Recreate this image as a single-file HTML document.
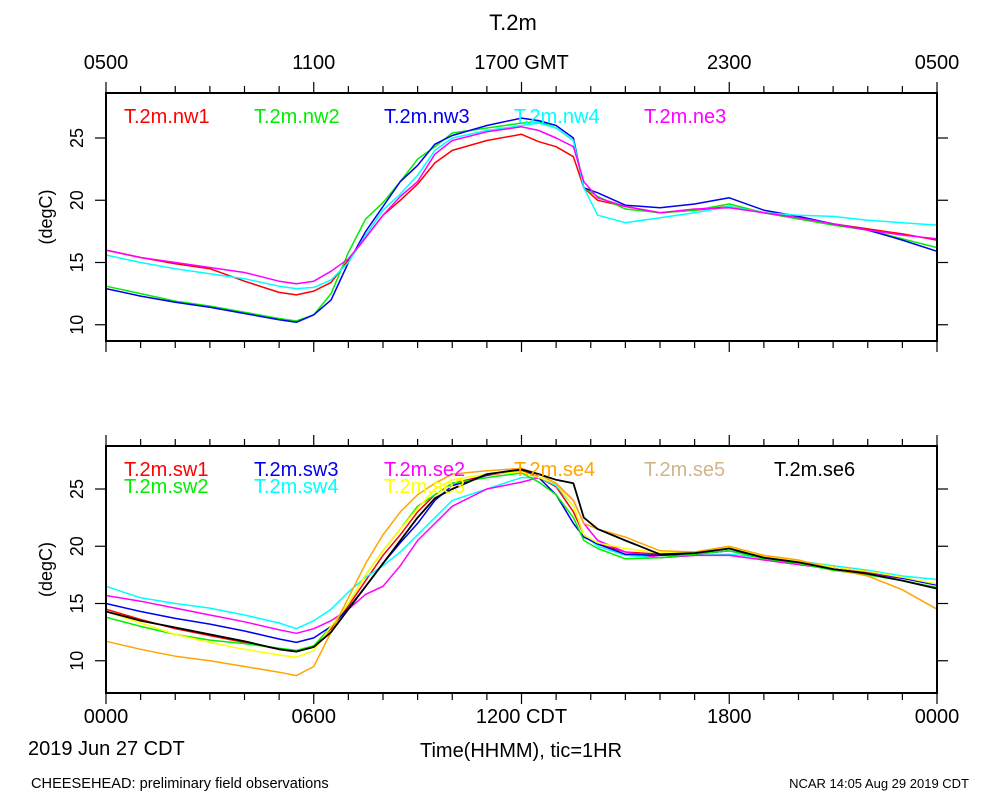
<!DOCTYPE html>
<html><head><meta charset="utf-8"><style>
body{margin:0;background:#fff;}
svg{display:block;font-family:"Liberation Sans",sans-serif;}
</style></head><body>
<svg id="chart" width="1000" height="800" viewBox="0 0 1000 800">
<text x="513" y="30" font-size="22" text-anchor="middle">T.2m</text>
<g id="g-top"></g>
<g id="g-bot"></g>
<text x="28" y="755" font-size="20">2019 Jun 27 CDT</text>
<text x="521" y="757" font-size="20" text-anchor="middle">Time(HHMM), tic=1HR</text>
<text x="31" y="788" font-size="14.6">CHEESEHEAD: preliminary field observations</text>
<text x="969" y="788" font-size="13" text-anchor="end">NCAR 14:05 Aug 29 2019 CDT</text>
</svg>
<script>
const times=[0,1,2,3,4,5,5.5,6,6.5,7,7.5,8,8.5,9,9.5,10,11,12,12.5,13,13.5,13.8,14.2,15,16,17,18,19,20,21,22,23,24];
const topLabels=["0500","1100","1700 GMT","2300","0500"];
const botLabels=["0000","0600","1200 CDT","1800","0000"];
const yTicks=[10,15,20,25];
const nw1=[16,15.4,14.9,14.5,13.5,12.6,12.4,12.7,13.4,15.2,17,18.8,20,21.3,23,24,24.8,25.3,24.7,24.3,23.5,21,20,19.5,19,19.2,19.5,19,18.5,18.1,17.7,17.3,16.8];
const nw2=[13.1,12.5,11.9,11.5,11,10.5,10.3,10.8,12.5,15.8,18.5,19.8,21.5,23.3,24.3,25.4,25.8,26.2,26.3,25.8,24.8,21,20.3,19.3,19,19.2,19.7,19,18.5,18,17.6,16.9,16.2];
const nw3=[12.9,12.3,11.8,11.4,10.9,10.4,10.2,10.8,12,15,17.5,19.5,21.5,22.8,24.5,25.2,26,26.6,26.4,26,25,21,20.6,19.6,19.4,19.7,20.2,19.2,18.7,18.1,17.6,16.8,15.9];
const nw4=[15.6,15,14.5,14.1,13.7,13.1,12.9,13,13.6,15,17.2,19.2,20.5,22,24,25,25.6,26,26.2,25.8,24.8,21,18.8,18.2,18.6,19,19.5,19,18.8,18.7,18.4,18.2,18];
const ne3=[16,15.4,15,14.6,14.2,13.5,13.3,13.5,14.3,15.3,17,18.8,20.3,21.5,23.7,24.8,25.5,25.9,25.6,25,24.3,21.5,20.2,19.5,19,19.3,19.4,19,18.6,18.1,17.6,17.2,16.9];
const sw1=[14.5,13.6,12.8,12.2,11.6,11,10.8,11.3,12.8,14.8,17,19.2,21,23,24.5,25.5,26.2,26.6,26,25.2,23,21,20.2,19.5,19.3,19.4,19.8,19,18.6,18,17.7,17.3,16.6];
const sw2=[13.8,13,12.3,11.8,11.5,11.1,10.9,11.3,13,15,17.5,19.6,21.5,23.5,24.5,25.5,26,26.4,25.6,24.5,22.5,20.5,19.8,18.9,19,19.3,19.6,18.9,18.5,17.9,17.5,17,16.4];
const sw3=[15,14.3,13.7,13.2,12.6,11.9,11.6,12,13,14.6,16.5,18.5,20.3,22,24,25.3,26.2,26.8,26,24.5,22,20.8,20.2,19.3,19.2,19.3,19.6,19,18.7,18.2,17.8,17.2,16.6];
const sw4=[16.5,15.5,15,14.6,14,13.3,12.8,13.5,14.5,16,17.3,18.3,19.5,21,22.5,24,25,26,26,25.3,23.5,21,20,19.2,19,19.2,19.3,19,18.7,18.3,17.9,17.4,17.1];
const se2=[15.7,15.2,14.6,14,13.4,12.7,12.4,12.8,13.5,14.5,15.8,16.5,18.3,20.5,22,23.5,25,25.6,26,25.5,24,22,20.5,19.5,19,19.2,19.2,18.8,18.4,18,17.6,17.2,16.7];
const se3=[14.3,13.3,12.3,11.6,11,10.5,10.3,10.9,13,15,17.5,19.6,21.5,23.3,25,25.8,26.3,26.5,26,25.5,23.5,21,20.3,19.8,19.4,19.5,19.9,19.1,18.7,18.2,17.8,17.3,16.7];
const se4=[11.7,11,10.4,10,9.5,9,8.7,9.5,12.5,15.5,18.5,21,23,24.5,25.5,26.3,26.6,26.8,26.3,25.5,24,22,21.5,20.8,19.6,19.5,20,19.2,18.8,18,17.4,16.2,14.5];
const se6=[14.3,13.5,12.9,12.3,11.7,11,10.8,11.2,12.5,14.5,16.5,18.5,20.5,22.5,24.2,25,26.3,26.7,26.3,25.8,25.5,22.5,21.5,20.5,19.3,19.4,19.8,19,18.6,18,17.6,17,16.3];

const NS="http://www.w3.org/2000/svg";
const X0=106,X1=937;
function xs(h){return X0+(X1-X0)*h/24;}
function mk(tag,attrs,parent){const e=document.createElementNS(NS,tag);for(const k in attrs)e.setAttribute(k,attrs[k]);parent.appendChild(e);return e;}

function panel(g,top,bot,yAt25,pxPerDeg,series,legends,xLabels,labelsTop){
  const ys=v=>yAt25+(25-v)*pxPerDeg;
  series.forEach(s=>{
    let d="";
    s.data.forEach((v,i)=>{d+=(i?"L":"M")+xs(times[i]).toFixed(1)+","+ys(v).toFixed(1);});
    const p=mk("path",{d:d,fill:"none",stroke:s.color,"stroke-width":s.w||1.5,"stroke-linejoin":"round"},g);
    
    
  });
  const f=mk("rect",{x:X0,y:top,width:X1-X0,height:bot-top,fill:"none",stroke:"#000","stroke-width":2},g);
  
  
  for(let h=0;h<=24;h++){
    const L=(h%6===0)?11:7;
    const x=xs(h);
    const t1=mk("line",{x1:x,x2:x,y1:top,y2:top-L,stroke:"#000","stroke-width":1.2},g);
    
    
    const t2=mk("line",{x1:x,x2:x,y1:bot,y2:bot+L,stroke:"#000","stroke-width":1.2},g);
    
    
  }
  xLabels.forEach((lab,i)=>{
    const y=labelsTop?top-24:bot+30;
    const t=mk("text",{x:xs(i*6),y:y,"font-size":20,"text-anchor":"middle"},g);
    t.textContent=lab;
    
    
  });
  yTicks.forEach(v=>{
    const y=ys(v);
    const a=mk("line",{x1:X0-11,x2:X0,y1:y,y2:y,stroke:"#000","stroke-width":1.2},g);
    
    
    const b=mk("line",{x1:X1,x2:X1+11,y1:y,y2:y,stroke:"#000","stroke-width":1.2},g);
    
    
    const t=mk("text",{x:0,y:0,"font-size":18,"text-anchor":"middle",transform:"translate(83,"+y+") rotate(-90)"},g);
    t.textContent=String(v);
    
    
  });
  const yl=mk("text",{x:0,y:0,"font-size":18,"text-anchor":"middle",transform:"translate(52,"+((top+bot)/2)+") rotate(-90)"},g);
  yl.textContent="(degC)";
  
  
  legends.forEach(l=>{
    const t=mk("text",{x:l.x,y:l.y,"font-size":20,fill:l.color},g);
    t.textContent=l.text;
    
    
  });
}

panel(document.getElementById("g-top"),93,341,138,12.45,[
 {name:"nw1",data:nw1,color:"#ff0000"},
 {name:"nw2",data:nw2,color:"#00ee00"},
 {name:"nw3",data:nw3,color:"#0000ee"},
 {name:"nw4",data:nw4,color:"#00ffff"},
 {name:"ne3",data:ne3,color:"#ff00ff"}],
 [{x:124,y:123,text:"T.2m.nw1",color:"#ff0000"},{x:254,y:123,text:"T.2m.nw2",color:"#00ee00"},
  {x:384,y:123,text:"T.2m.nw3",color:"#0000ee"},{x:514,y:123,text:"T.2m.nw4",color:"#00ffff"},
  {x:644,y:123,text:"T.2m.ne3",color:"#ff00ff"}],topLabels,true);

panel(document.getElementById("g-bot"),446,693,489,11.45,[
 {name:"sw1",data:sw1,color:"#ff0000"},
 {name:"sw4",data:sw4,color:"#00ffff"},
 {name:"se2",data:se2,color:"#ff00ff"},
 {name:"sw3",data:sw3,color:"#0000ee"},
 {name:"sw2",data:sw2,color:"#00ee00"},
 {name:"se3",data:se3,color:"#ffff00"},
 {name:"se4",data:se4,color:"#ffa500"},
 {name:"se6",data:se6,color:"#000000",w:1.8}],
 [{x:124,y:476,text:"T.2m.sw1",color:"#ff0000"},{x:124,y:493,text:"T.2m.sw2",color:"#00ee00"},
  {x:254,y:476,text:"T.2m.sw3",color:"#0000ee"},{x:254,y:493,text:"T.2m.sw4",color:"#00ffff"},
  {x:384,y:476,text:"T.2m.se2",color:"#ff00ff"},{x:384,y:493,text:"T.2m.se3",color:"#ffff00"},
  {x:514,y:476,text:"T.2m.se4",color:"#ffa500"},{x:644,y:476,text:"T.2m.se5",color:"#d2b48c"},
  {x:774,y:476,text:"T.2m.se6",color:"#000000"}],botLabels,false);
</script>
</body></html>
